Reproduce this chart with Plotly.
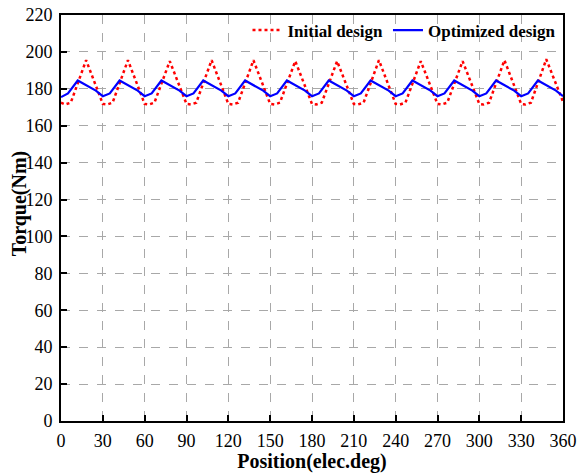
import plotly.graph_objects as go

# Initial design: key points (position in elec.deg, torque in Nm)
x_initial = [0, 3, 7, 18, 30, 33, 37, 48, 60, 63, 67, 78, 90, 93, 97, 108,
             120, 123, 127, 138, 150, 153, 157, 168, 180, 183, 187, 198,
             210, 213, 217, 228, 240, 243, 247, 258, 270, 273, 277, 288,
             300, 303, 307, 318, 330, 333, 337, 348, 360]
y_initial = [172.5, 171.5, 172.5, 195.5, 171.8, 171.5, 172.5, 195.5, 171.8, 171.5, 172.5, 195.0,
             171.8, 171.5, 172.5, 195.5, 171.8, 171.5, 172.5, 195.5, 171.8, 171.5, 172.5, 195.0,
             171.8, 171.5, 172.5, 195.0, 171.8, 171.5, 172.5, 195.5, 171.8, 171.5, 172.5, 195.0,
             171.8, 171.5, 172.5, 195.0, 171.8, 171.5, 172.5, 195.5, 171.8, 171.5, 172.5, 196.0,
             173.0]

# Optimized design: key points
x_opt = [0, 5, 12, 19, 25, 30, 35, 42, 49, 55, 60, 65, 72, 79, 85, 90, 95, 102, 109, 115,
         120, 125, 132, 139, 145, 150, 155, 162, 169, 175, 180, 185, 192, 199, 205,
         210, 215, 222, 229, 235, 240, 245, 252, 259, 265, 270, 275, 282, 289, 295,
         300, 305, 312, 319, 325, 330, 335, 342, 349, 355, 360]
y_opt = [175.5, 177.5, 184.5, 181.5, 179.0, 176.0, 177.5, 184.5, 181.5, 179.0, 176.0, 177.5, 184.5, 181.5, 179.0,
         176.0, 177.5, 184.5, 181.5, 179.0, 176.0, 177.5, 184.5, 181.5, 179.0, 176.0, 177.5, 184.5, 181.5, 179.0,
         176.0, 177.5, 184.5, 181.5, 179.0, 176.0, 177.5, 184.5, 181.5, 179.0, 176.0, 177.5, 184.5, 181.5, 179.0,
         176.0, 177.5, 184.5, 181.5, 179.0, 176.0, 177.5, 184.5, 181.5, 179.0, 176.0, 177.5, 184.5, 181.5, 179.0,
         176.0]

x_ticks = list(range(0, 361, 30))
y_ticks = list(range(0, 221, 20))

FONT = "Liberation Serif, Times New Roman, serif"

fig = go.Figure()
fig.add_trace(go.Scatter(x=x_initial, y=y_initial, mode="lines", name="Initial design",
                         line=dict(color="#ff0000", width=2.5, dash="dot")))
fig.add_trace(go.Scatter(x=x_opt, y=y_opt, mode="lines", name="Optimized design",
                         line=dict(color="#0000ff", width=2.2)))

axis_common = dict(
    showline=True, linecolor="black", linewidth=2, mirror=True,
    ticks="inside", ticklen=6, tickwidth=2, tickcolor="black",
    showgrid=True, gridcolor="#a8a8a8", gridwidth=1, griddash="dash",
    zeroline=False, automargin=False,
    tickfont=dict(family=FONT, size=18, color="black"),
)

fig.update_xaxes(range=[0, 360], tickvals=x_ticks, ticklabelstandoff=2, **axis_common,
                 title=dict(text="Position(elec.deg)", standoff=0,
                            font=dict(family=FONT, size=20, color="black", weight="bold")))
fig.update_yaxes(range=[0, 220], tickvals=y_ticks, ticklabelstandoff=3, **axis_common)

fig.add_annotation(text="Torque(Nm)", xref="paper", yref="paper",
                   x=-0.0837, y=0.536, xanchor="center", yanchor="middle",
                   textangle=-90, showarrow=False,
                   font=dict(family=FONT, size=20, color="black", weight="bold"))

fig.update_layout(
    width=577, height=473,
    margin=dict(l=61, r=14, t=15, b=52, autoexpand=False),
    paper_bgcolor="white", plot_bgcolor="white",
    legend=dict(orientation="h", x=0.997, y=1.006, xanchor="right", yanchor="top",
                bgcolor="rgba(0,0,0,0)", itemwidth=30, tracegroupgap=0,
                font=dict(family=FONT, size=17, color="black", weight="bold")),
    showlegend=True,
)

fig.write_html("out.html")
